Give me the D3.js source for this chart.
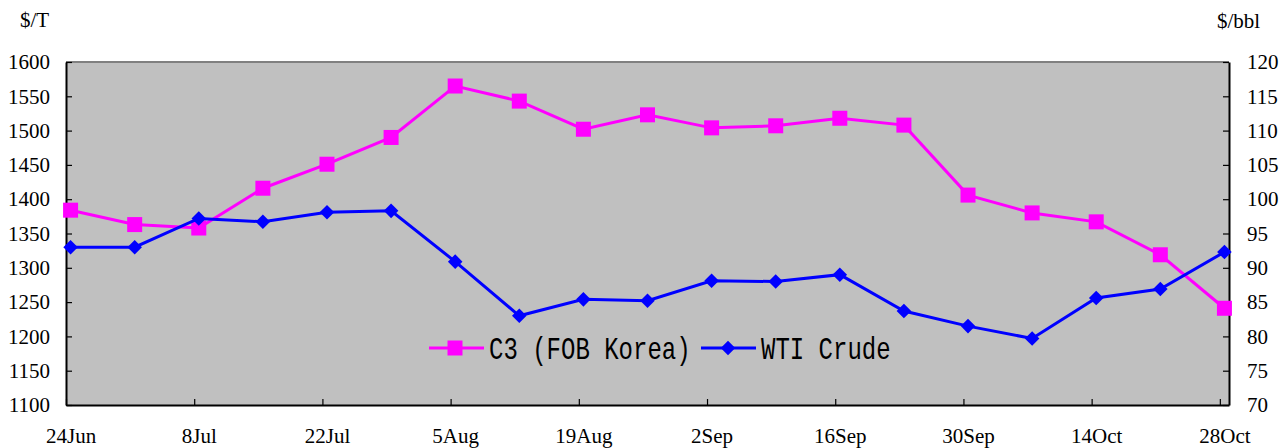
<!DOCTYPE html>
<html>
<head>
<meta charset="utf-8">
<script src="https://cdn.jsdelivr.net/npm/d3@7"></script>
<style>
  html, body { margin: 0; padding: 0; background: #fff; }
  svg { display: block; }
</style>
</head>
<body>
<svg id="chart" width="1288" height="448"></svg>
<script>
// ---- data ----
const weeks = ["24Jun","1Jul","8Jul","15Jul","22Jul","29Jul","5Aug","12Aug","19Aug","26Aug","2Sep","9Sep","16Sep","23Sep","30Sep","7Oct","14Oct","21Oct","28Oct"];
const c3Values = [1384,1363,1358,1416,1451,1490,1565,1543,1502,1523,1504,1507,1518,1508,1406,1380,1367,1319,1241];
const wtiValues = [93.0,93.0,97.2,96.7,98.1,98.3,90.9,83.0,85.4,85.2,88.1,88.0,89.0,83.7,81.5,79.7,85.6,86.9,92.3];
const xLabels = ["24Jun","8Jul","22Jul","5Aug","19Aug","2Sep","16Sep","30Sep","14Oct","28Oct"];
const leftTicks = [1100,1150,1200,1250,1300,1350,1400,1450,1500,1550,1600];
const rightTicks = [70,75,80,85,90,95,100,105,110,115,120];
const seriesNames = ["C3 (FOB Korea)", "WTI Crude"];
const leftUnit = "$/T", rightUnit = "$/bbl";

// ---- layout ----
const svg = d3.select("#chart");
const L = 66, R = 1229, T = 62, B = 405;
const serif = "'Liberation Serif','Times New Roman',serif";

// x: day-based axis (one slot per day, points centered in their day)
const dayOf = i => i * 7;
const x = d3.scaleLinear().domain([0, 127]).range([L, R]);
const yL = d3.scaleLinear().domain([1100, 1600]).range([B, T]);
const yR = d3.scaleLinear().domain([70, 120]).range([B, T]);

// plot background
svg.append("rect").attr("x", L).attr("y", T).attr("width", R - L).attr("height", B - T)
  .attr("fill", "#c0c0c0");
// top border gray
svg.append("line").attr("x1", L).attr("x2", R).attr("y1", T).attr("y2", T)
  .attr("stroke", "#808080").attr("stroke-width", 2);

// left axis
const gL = svg.append("g").attr("transform", `translate(${L},0)`)
  .call(d3.axisLeft(yL).tickValues(leftTicks).tickSizeInner(-6).tickSizeOuter(0).tickPadding(16).tickFormat(d3.format("d")));
// right axis
const gR = svg.append("g").attr("transform", `translate(${R},0)`)
  .call(d3.axisRight(yR).tickValues(rightTicks).tickSizeInner(-6).tickSizeOuter(0).tickPadding(18).tickFormat(d3.format("d")));
// bottom axis ticks (day boundaries, every two weeks)
const tickDays = xLabels.map((d, i) => i * 14);
const gB = svg.append("g").attr("transform", `translate(0,${B})`)
  .call(d3.axisBottom(x).tickValues(tickDays).tickSizeInner(-6).tickSizeOuter(0).tickFormat(""));
// bottom labels centered on the data points
const gBL = svg.append("g").attr("transform", `translate(0,${B})`)
  .call(d3.axisBottom(x).tickValues(tickDays.map(d => d + 0.5)).tickSize(0).tickPadding(0)
    .tickFormat((d, i) => xLabels[i]));
gBL.select(".domain").remove();
gBL.selectAll("text").attr("y", 38).attr("dy", 0);

[gL, gR, gB, gBL].forEach(g => {
  g.selectAll(".domain").attr("stroke", "#000").attr("stroke-width", 2);
  g.selectAll(".tick line").attr("stroke", "#000").attr("stroke-width", 1.2);
  g.selectAll("text").attr("font-family", serif).attr("font-size", 21).attr("fill", "#000");
});
gR.selectAll("text").attr("text-anchor", "start");

// units
svg.append("text").attr("x", 20).attr("y", 27).attr("font-family", serif).attr("font-size", 21).text(leftUnit);
svg.append("text").attr("x", 1217).attr("y", 28).attr("font-family", serif).attr("font-size", 21).text(rightUnit);

// series
const c3Color = "#ff00ff", wtiColor = "#0000ff";
const lineC3 = d3.line().x((d, i) => x(dayOf(i) + 0.5)).y(d => yL(d));
const lineWti = d3.line().x((d, i) => x(dayOf(i) + 0.5)).y(d => yR(d));

svg.append("path").datum(c3Values).attr("d", lineC3).attr("fill", "none")
  .attr("stroke", c3Color).attr("stroke-width", 3);
const sq = 15;
svg.append("g").selectAll("rect").data(c3Values).join("rect")
  .attr("x", (d, i) => x(dayOf(i) + 0.5) - sq / 2).attr("y", d => yL(d) - sq / 2)
  .attr("width", sq).attr("height", sq).attr("fill", c3Color);

svg.append("path").datum(wtiValues).attr("d", lineWti).attr("fill", "none")
  .attr("stroke", wtiColor).attr("stroke-width", 3);
const diamond = d3.symbol().type(d3.symbolDiamond2).size(135);
svg.append("g").selectAll("path").data(wtiValues).join("path")
  .attr("d", diamond)
  .attr("transform", (d, i) => `translate(${x(dayOf(i) + 0.5)},${yR(d)})`)
  .attr("fill", wtiColor);

// legend
const mono = "'Liberation Mono','DejaVu Sans Mono',monospace";
const lg = svg.append("g");
const ly = 348;
lg.append("line").attr("x1", 429).attr("x2", 484).attr("y1", ly).attr("y2", ly)
  .attr("stroke", c3Color).attr("stroke-width", 3);
lg.append("rect").attr("x", 455 - sq / 2).attr("y", ly - sq / 2).attr("width", sq).attr("height", sq).attr("fill", c3Color);
lg.append("text").attr("transform", `translate(489,${ly + 11}) scale(0.8,1.05)`)
  .attr("font-family", mono).attr("font-size", 30).attr("fill", "#000").text(seriesNames[0]);
lg.append("line").attr("x1", 701).attr("x2", 756).attr("y1", ly).attr("y2", ly)
  .attr("stroke", wtiColor).attr("stroke-width", 3);
lg.append("path").attr("d", diamond).attr("transform", `translate(728,${ly})`).attr("fill", wtiColor);
lg.append("text").attr("transform", `translate(761,${ly + 11}) scale(0.8,1.05)`)
  .attr("font-family", mono).attr("font-size", 30).attr("fill", "#000").text(seriesNames[1]);
</script>
</body>
</html>
